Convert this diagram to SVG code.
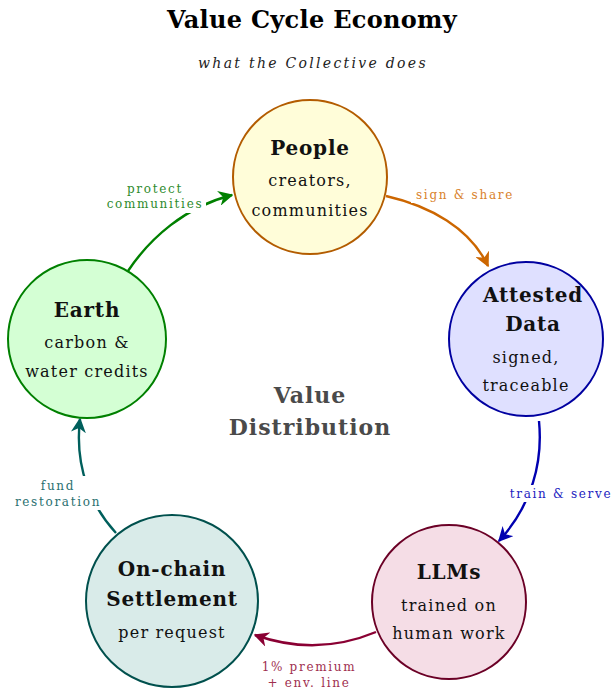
<svg xmlns="http://www.w3.org/2000/svg" width="613" height="696" viewBox="0 0 613 696">
<style>
text{font-family:"DejaVu Serif","Liberation Serif",serif;text-anchor:middle}
.title{font-size:24px;font-weight:bold;fill:#000;letter-spacing:0.3px}
.sub{font-size:14px;font-style:italic;fill:#222;letter-spacing:2.3px}
.hd{font-size:20px;font-weight:bold;fill:#111;letter-spacing:0.8px}
.bd{font-size:16px;fill:#111;letter-spacing:1.2px}
.lb{font-size:12px;letter-spacing:1.7px}
.edge{fill:none;stroke-width:2.4}
.bg{fill:#fff}
</style>
<defs>
<marker id="aG" viewBox="0 0 10 10" refX="9" refY="5" markerWidth="15" markerHeight="15" markerUnits="userSpaceOnUse" orient="auto"><path d="M0,0 L10,5 L0,10 L3,5 Z" fill="#008000"/></marker>
<marker id="aO" viewBox="0 0 10 10" refX="9" refY="5" markerWidth="15" markerHeight="15" markerUnits="userSpaceOnUse" orient="auto"><path d="M0,0 L10,5 L0,10 L3,5 Z" fill="#cc6600"/></marker>
<marker id="aB" viewBox="0 0 10 10" refX="9" refY="5" markerWidth="15" markerHeight="15" markerUnits="userSpaceOnUse" orient="auto"><path d="M0,0 L10,5 L0,10 L3,5 Z" fill="#0000b0"/></marker>
<marker id="aR" viewBox="0 0 10 10" refX="9" refY="5" markerWidth="15" markerHeight="15" markerUnits="userSpaceOnUse" orient="auto"><path d="M0,0 L10,5 L0,10 L3,5 Z" fill="#8a0033"/></marker>
<marker id="aT" viewBox="0 0 10 10" refX="9" refY="5" markerWidth="15" markerHeight="15" markerUnits="userSpaceOnUse" orient="auto"><path d="M0,0 L10,5 L0,10 L3,5 Z" fill="#005f5c"/></marker>
</defs>
<rect width="613" height="696" fill="#fff"/>
<g id="title">
<text class="title" x="312" y="28">Value Cycle Economy</text>
<text class="sub" x="313" y="68">what the Collective does</text>
</g>
<g id="center">
<text x="310" y="403" style="font-size:22px;font-weight:bold;fill:#4a4a4a;letter-spacing:1px">Value</text>
<text x="310" y="435" style="font-size:22px;font-weight:bold;fill:#4a4a4a;letter-spacing:1px">Distribution</text>
</g>
<g id="connectors">
<path class="edge" stroke="#008000" d="M128,271 C150,238 185,207 232,195" marker-end="url(#aG)"/>
<path class="edge" stroke="#cc6600" d="M386,196 C430,206 470,228 488,266" marker-end="url(#aO)"/>
<path class="edge" stroke="#0000b0" d="M539,421 C543,462 532,505 499,541" marker-end="url(#aB)"/>
<path class="edge" stroke="#8a0033" d="M376,632 C340,647 300,651 255,635" marker-end="url(#aR)"/>
<path class="edge" stroke="#005f5c" d="M116,533 C93,508 74,470 80,419" marker-end="url(#aT)"/>
<rect class="bg" x="102" y="181" width="104" height="32"/>
<text class="lb" x="155" y="193" fill="#2e8b2e">protect</text>
<text class="lb" x="155" y="208" fill="#2e8b2e">communities</text>
<rect class="bg" x="411" y="186" width="106" height="17"/>
<text class="lb" x="465" y="199" fill="#d9822b">sign &amp; share</text>
<rect class="bg" x="506" y="485" width="107" height="17"/>
<text class="lb" x="561" y="498" fill="#2222c0">train &amp; serve</text>
<rect class="bg" x="256" y="657" width="106" height="34"/>
<text class="lb" x="309" y="671" fill="#a0304f">1% premium</text>
<text class="lb" x="309" y="687" fill="#a0304f">+ env. line</text>
<rect class="bg" x="12" y="476" width="92" height="34"/>
<text class="lb" x="58" y="490" fill="#2a7070">fund</text>
<text class="lb" x="58" y="506" fill="#2a7070">restoration</text>
</g>
<g id="people">
<circle cx="310" cy="177" r="77" fill="#fffdd9" stroke="#b35c00" stroke-width="2"/>
<text class="hd" x="310" y="155">People</text>
<text class="bd" x="310" y="186">creators,</text>
<text class="bd" x="310" y="216">communities</text>
</g>
<g id="attested">
<circle cx="526" cy="339" r="77" fill="#dfe0ff" stroke="#0000a0" stroke-width="2"/>
<text class="hd" x="533" y="302">Attested</text>
<text class="hd" x="533" y="331">Data</text>
<text class="bd" x="526" y="363">signed,</text>
<text class="bd" x="526" y="391">traceable</text>
</g>
<g id="llms">
<circle cx="449" cy="602" r="77" fill="#f5dde6" stroke="#6b0026" stroke-width="2"/>
<text class="hd" x="449" y="579">LLMs</text>
<text class="bd" x="449" y="611">trained on</text>
<text class="bd" x="449" y="639">human work</text>
</g>
<g id="settlement">
<circle cx="172" cy="601" r="86" fill="#d9ebe9" stroke="#00504d" stroke-width="2"/>
<text class="hd" x="172" y="576">On-chain</text>
<text class="hd" x="172" y="606">Settlement</text>
<text class="bd" x="172" y="638">per request</text>
</g>
<g id="earth">
<circle cx="87" cy="339" r="79" fill="#d4ffd4" stroke="#008000" stroke-width="2"/>
<text class="hd" x="87" y="317">Earth</text>
<text class="bd" x="87" y="348">carbon &amp;</text>
<text class="bd" x="87" y="377">water credits</text>
</g>
</svg>
